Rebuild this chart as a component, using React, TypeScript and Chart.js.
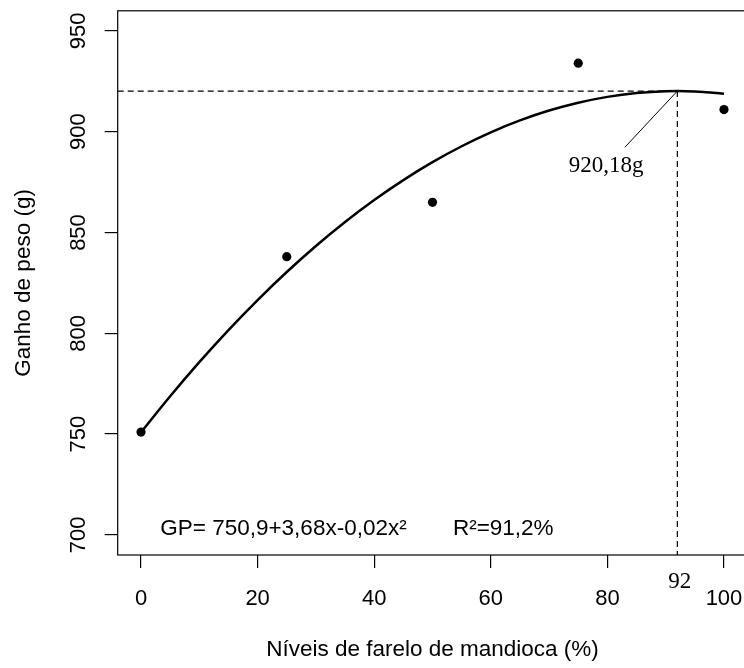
import React, { useEffect, useRef } from "react";
import { Chart, registerables } from "chart.js";

Chart.register(...registerables);

// ---- data ----
const levels = [0, 25, 50, 75, 100];
const gain = [751, 838, 865, 934, 911];

const curveX = [0, 5, 10, 15, 20, 25, 30, 35, 40, 45, 50, 55, 60, 65, 70, 75, 80, 85, 90, 95, 100];
const curveY = [750.9, 768.8, 785.7, 801.6, 816.5, 830.4, 843.3, 855.2, 866.1, 876.0, 884.9, 892.8, 899.7, 905.6, 910.5, 914.4, 917.3, 919.2, 920.1, 920.0, 918.9];

const xTicks = [0, 20, 40, 60, 80, 100];
const yTicks = [700, 750, 800, 850, 900, 950];

const optimumX = 92;
const optimumY = 920.18;
const leaderEnd = { x: 83, y: 892.3 };
const optimumLabelPos = { x: 79.8, y: 883 };

const equationText = "GP= 750,9+3,68x-0,02x²";
const equationPos = { x: 3.3, y: 703 };
const r2Text = "R²=91,2%";
const r2Pos = { x: 53.5, y: 703 };
const optimumLabel = "920,18g";
const optimumXLabel = "92";

const xTitle = "Níveis de farelo de mandioca (%)";
const yTitle = "Ganho de peso (g)";

const xMin = -4;
const xMax = 104;
const yMin = 690;
const yMax = 960;

const SANS = "'Liberation Sans', Arial, sans-serif";
const SERIF = "'Liberation Serif', 'Times New Roman', serif";

export default function App() {
  const ref = useRef<HTMLCanvasElement | null>(null);

  useEffect(() => {
    document.body.style.margin = "0";
    const canvas = ref.current;
    if (!canvas) return;

    const overlay = {
      id: "overlay",
      afterDraw(chart: any) {
        const ctx = chart.ctx;
        const { left, top, right, bottom } = chart.chartArea;
        const xs = chart.scales.x;
        const ys = chart.scales.y;
        ctx.save();
        ctx.strokeStyle = "#000";
        ctx.lineWidth = 1.2;
        ctx.strokeRect(left, top, right - left, bottom - top);

        ctx.fillStyle = "#000";
        ctx.textBaseline = "middle";
        ctx.font = `22.5px ${SANS}`;
        ctx.textAlign = "left";
        ctx.fillText(equationText, xs.getPixelForValue(equationPos.x), ys.getPixelForValue(equationPos.y));
        ctx.fillText(r2Text, xs.getPixelForValue(r2Pos.x), ys.getPixelForValue(r2Pos.y));

        ctx.font = `23px ${SERIF}`;
        ctx.textAlign = "center";
        ctx.fillText(optimumLabel, xs.getPixelForValue(optimumLabelPos.x), ys.getPixelForValue(optimumLabelPos.y));
        ctx.fillText(optimumXLabel, xs.getPixelForValue(optimumX) + 2.5, bottom + 27);
        ctx.restore();
      },
    };

    const dashed = {
      borderColor: "#000",
      borderWidth: 1.2,
      borderDash: [6, 4],
      pointRadius: 0,
      showLine: true,
    };

    const chart = new Chart(canvas, {
      type: "scatter",
      data: {
        datasets: [
          {
            data: levels.map((x, i) => ({ x, y: gain[i] })),
            backgroundColor: "#000",
            borderColor: "#000",
            pointRadius: 4.6,
            pointBorderWidth: 0,
            showLine: false,
          },
          {
            data: curveX.map((x, i) => ({ x, y: curveY[i] })),
            borderColor: "#000",
            borderWidth: 2.5,
            pointRadius: 0,
            showLine: true,
            tension: 0.4,
          },
          {
            ...dashed,
            data: [
              { x: xMin, y: optimumY },
              { x: optimumX, y: optimumY },
            ],
          },
          {
            ...dashed,
            data: [
              { x: optimumX, y: optimumY },
              { x: optimumX, y: yMin },
            ],
          },
          {
            data: [
              { x: optimumX, y: optimumY },
              { x: leaderEnd.x, y: leaderEnd.y },
            ],
            borderColor: "#000",
            borderWidth: 1,
            pointRadius: 0,
            showLine: true,
          },
        ],
      },
      options: {
        responsive: false,
        animation: false,
        devicePixelRatio: 1,
        layout: { padding: { top: 10.8, right: 4.7, left: 0, bottom: 0 } },
        plugins: {
          legend: { display: false },
          tooltip: { enabled: false },
        },
        scales: {
          x: {
            type: "linear",
            min: xMin,
            max: xMax,
            afterBuildTicks: (s: any) => {
              s.ticks = xTicks.map((v) => ({ value: v }));
            },
            afterFit: (s: any) => {
              s.height = 113;
              s.paddingLeft = 0;
              s.paddingRight = 0;
              s.paddingTop = 0;
              s.paddingBottom = 0;
            },
            ticks: {
              color: "#000",
              font: { family: SANS, size: 22 },
              padding: 18,
              maxRotation: 0,
              minRotation: 0,
            },
            grid: {
              drawOnChartArea: false,
              drawTicks: true,
              tickLength: 13,
              color: "#000",
              lineWidth: 1.2,
            },
            border: { display: false },
            title: {
              display: true,
              text: xTitle,
              color: "#000",
              font: { family: SANS, size: 22.5 },
              padding: { top: 0, bottom: 5 },
            },
          },
          y: {
            type: "linear",
            min: yMin,
            max: yMax,
            afterBuildTicks: (s: any) => {
              s.ticks = yTicks.map((v) => ({ value: v }));
            },
            afterFit: (s: any) => {
              s.width = 117.7;
              s.paddingLeft = 0;
              s.paddingRight = 0;
              s.paddingTop = 0;
              s.paddingBottom = 0;
            },
            ticks: {
              color: "#000",
              font: { family: SANS, size: 22 },
              padding: 7,
              minRotation: 90,
              maxRotation: 90,
              crossAlign: "center",
            },
            grid: {
              drawOnChartArea: false,
              drawTicks: true,
              tickLength: 13,
              color: "#000",
              lineWidth: 1.2,
            },
            border: { display: false },
            title: {
              display: true,
              text: yTitle,
              color: "#000",
              font: { family: SANS, size: 22.5 },
              padding: { top: 10, bottom: 0 },
            },
          },
        },
      },
      plugins: [overlay],
    } as any);

    return () => chart.destroy();
  }, []);

  return (
    <div style={{ position: "relative", width: 744, height: 668, overflow: "hidden" }}>
      <canvas ref={ref} width={752} height={668} style={{ display: "block" }} />
    </div>
  );
}
